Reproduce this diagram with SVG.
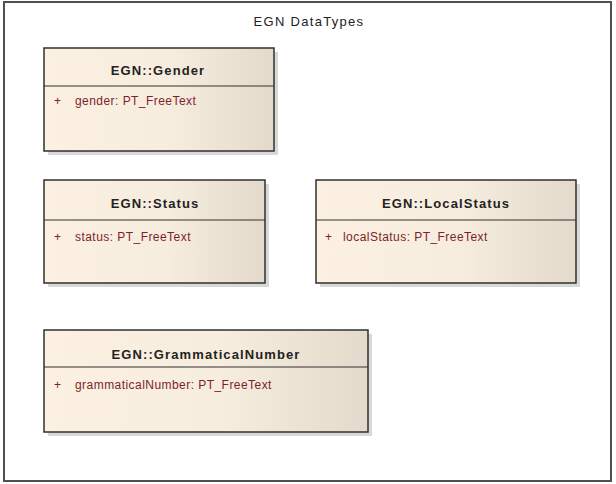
<svg xmlns="http://www.w3.org/2000/svg" width="616" height="484" viewBox="0 0 616 484">
<defs>
<linearGradient id="g" x1="0" y1="0" x2="1" y2="0">
<stop offset="0" stop-color="#fbf0e1"/>
<stop offset="0.55" stop-color="#f7eddf"/>
<stop offset="1" stop-color="#e4dacb"/>
</linearGradient>
</defs>
<style>
.frame{fill:#fff;stroke:#505050;stroke-width:2}
.shadow{fill:#c8c8c8;opacity:0.7}
.box{fill:url(#g);stroke:#303030;stroke-width:1.5}
.div{stroke:#303030;stroke-width:1.2}
.t{font-family:"Liberation Sans",Arial,sans-serif;font-size:13px;font-weight:bold;letter-spacing:1.1px;fill:#222;text-anchor:middle}
.a{font-family:"Liberation Sans",Arial,sans-serif;font-size:12px;letter-spacing:0.45px;fill:#7d1f2c}
.ft{font-family:"Liberation Sans",Arial,sans-serif;font-size:13px;letter-spacing:1.3px;fill:#222;text-anchor:middle}
</style>
<rect class="frame" x="4" y="2" width="607" height="479"/>
<text class="ft" x="309" y="26">EGN DataTypes</text>
<g id="gender">
<rect class="shadow" x="48" y="52" width="230" height="103"/>
<rect class="box" x="44" y="48" width="230" height="103"/>
<line class="div" x1="44" y1="86" x2="274" y2="86"/>
<text class="t" x="158" y="75">EGN::Gender</text>
<text class="a" x="54" y="105">+</text>
<text class="a" x="75" y="105">gender:  PT_FreeText</text>
</g>
<g id="status">
<rect class="shadow" x="48" y="184" width="221" height="103"/>
<rect class="box" x="44" y="180" width="221" height="103"/>
<line class="div" x1="44" y1="220" x2="265" y2="220"/>
<text class="t" x="155" y="208">EGN::Status</text>
<text class="a" x="54" y="241">+</text>
<text class="a" x="75" y="241">status:  PT_FreeText</text>
</g>
<g id="localStatus">
<rect class="shadow" x="320" y="184" width="260" height="103"/>
<rect class="box" x="316" y="180" width="260" height="103"/>
<line class="div" x1="316" y1="220" x2="576" y2="220"/>
<text class="t" x="446" y="208">EGN::LocalStatus</text>
<text class="a" x="325" y="241">+</text>
<text class="a" x="343" y="241">localStatus:  PT_FreeText</text>
</g>
<g id="grammaticalNumber">
<rect class="shadow" x="48" y="334" width="324" height="102"/>
<rect class="box" x="44" y="330" width="324" height="102"/>
<line class="div" x1="44" y1="367" x2="368" y2="367"/>
<text class="t" x="206" y="359">EGN::GrammaticalNumber</text>
<text class="a" x="54" y="389">+</text>
<text class="a" x="75" y="389">grammaticalNumber:  PT_FreeText</text>
</g>
<g id="connectors"/>
</svg>
